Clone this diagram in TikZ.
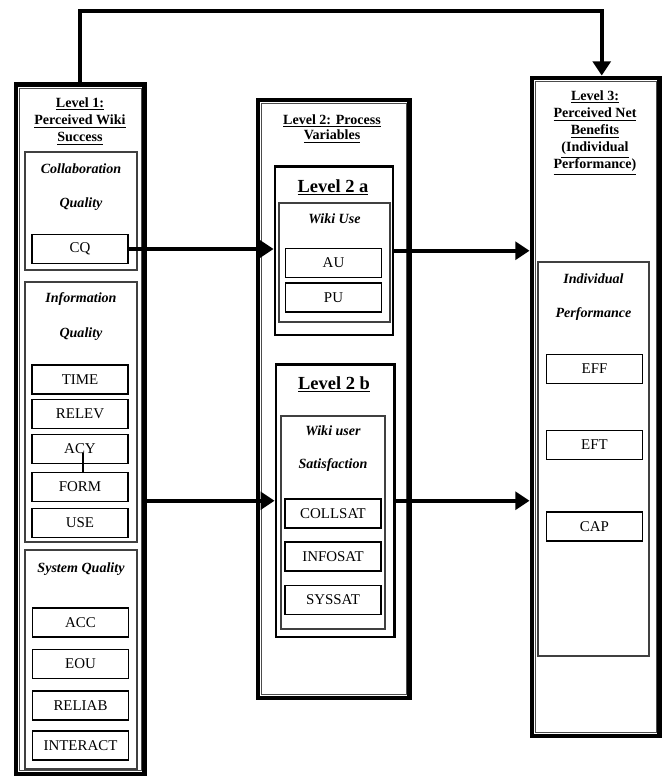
\documentclass[tikz,border=0pt]{standalone}
\usepackage{fontspec}
\setmainfont{Liberation Serif}
\usetikzlibrary{arrows.meta,fit,positioning}

\begin{document}
\begin{tikzpicture}[x=0.02cm,y=-0.02cm,
    levelbox/.style={draw,line width=2.8pt,inner sep=0pt},
    subbox/.style={draw,line width=1.6pt,inner sep=0pt},
    groupbox/.style={draw=black!75,line width=0.6pt,inner sep=0pt},
    item/.style={draw,line width=0.7pt,minimum width=1.92cm,minimum height=0.58cm,inner sep=0pt,font=\fontsize{8.5}{10}\selectfont},
    leveltitle/.style={align=center,inner sep=0pt,anchor=north,font=\bfseries\fontsize{8}{9.8}\selectfont},
    subtitle/.style={inner sep=0pt,anchor=base,font=\bfseries\fontsize{10.5}{12}\selectfont},
    grouplabel/.style={align=center,inner sep=0pt,anchor=north,font=\bfseries\itshape\fontsize{8}{19.8}\selectfont},
    conn/.style={line width=2.4pt,-{Triangle[length=8pt,width=10pt]}}]
        \useasboundingbox (0,0) rectangle (666,777);
        % --- level boxes ---
        \node[levelbox,fit={(16,84.5) (144.5,774)}] (L1) {};
        \node[levelbox,fit={(258,100) (409.5,698)}] (L2) {};
        \node[levelbox,fit={(532,78) (659.5,736)}] (L3) {};
        \foreach \b in {L1,L2,L3}
            \draw[line width=0.5pt,black!70] ([shift={(6,6)}]\b.north west) rectangle ([shift={(-6,-6)}]\b.south east);
        \node[leveltitle] (t1) at (80,97) {\underline{Level 1:}\\\underline{Perceived Wiki}\\\underline{Success}};
        \node[leveltitle,font=\bfseries\fontsize{8}{8.8}\selectfont] (t2) at (332,114) {\underline{Level 2: Process}\\\underline{Variables}};
        \node[leveltitle] (t3) at (595,90) {\underline{Level 3:}\\\underline{Perceived Net}\\\underline{Benefits}\\\underline{(Individual}\\\underline{Performance)}};
        % --- level 1 groups ---
        \node[groupbox,fit={(25,152) (137,270)}] (CoQ) {};
        \node[grouplabel] (lCoQ) at (81,163) {Collaboration\\Quality};
        \node[item] (CQ) at (80,249) {CQ};
        \node[groupbox,fit={(25,282) (137,542)}] (InQ) {};
        \node[grouplabel] (lInQ) at (81,292) {Information\\Quality};
        \node[item] (TIME) at (80,379.5) {TIME};
        \node[item] (RELEV) at (80,414) {RELEV};
        \node[item] (ACY) at (80,449) {ACY};
        \node[item] (FORM) at (80,487) {FORM};
        \node[item] (USE) at (80,523) {USE};
        \coordinate (acyfoot) at (83,453);
        \draw[line width=1.1pt] (acyfoot) -- (acyfoot |- FORM.north);
        \node[groupbox,fit={(25,550) (137,769)}] (SyQ) {};
        \node[grouplabel] (lSyQ) at (81,562) {System Quality};
        \node[item] (ACC) at (80.5,622.5) {ACC};
        \node[item] (EOU) at (80.5,664) {EOU};
        \node[item] (RELIAB) at (80.5,705.5) {RELIAB};
        \node[item] (INTERACT) at (80.5,745.5) {INTERACT};
        % --- level 2 a / 2 b ---
        \node[subbox,fit={(275,166.5) (393,335)}] (L2a) {};
        \node[subtitle] (t2a) at (333,192) {\underline{Level 2 a}};
        \node[groupbox,fit={(279,203) (390,322)}] (WU) {};
        \node[grouplabel] (lWU) at (334.5,213) {Wiki Use};
        \node[item] (AU) at (333.5,263) {AU};
        \node[item] (PU) at (333.5,297.5) {PU};
        \node[subbox,fit={(276,364.5) (394.5,637)}] (L2b) {};
        \node[subtitle] (t2b) at (334,389) {\underline{Level 2 b}};
        \node[groupbox,fit={(281,416) (385,629)}] (WS) {};
        \node[grouplabel,font=\bfseries\itshape\fontsize{8}{18.8}\selectfont] (lWS) at (333,425) {Wiki user\\Satisfaction};
        \node[item] (COLLSAT) at (333,513.5) {COLLSAT};
        \node[item] (INFOSAT) at (333,556.5) {INFOSAT};
        \node[item] (SYSSAT) at (333,600) {SYSSAT};
        % --- level 3 ---
        \node[groupbox,fit={(538,262) (649,656)}] (IP) {};
        \node[grouplabel] (lIP) at (593.5,273) {Individual\\Performance};
        \node[item] (EFF) at (594.5,369) {EFF};
        \node[item] (EFT) at (594.5,445) {EFT};
        \node[item] (CAP) at (594.5,526.5) {CAP};
        % --- connectors ---
        \draw[conn] (CQ.east) -- (CQ.east -| L2a.west);
        \draw[conn] (L2a.east) -- (L2a.east -| L3.west);
        \draw[conn] (L2b.west -| L1.east) -- (L2b.west);
        \draw[conn] (L2b.east) -- (L2b.east -| L3.west);
        \coordinate (top) at (340,11);
        \draw[conn] (L1.north) |- (top) -| ([xshift=0.12cm]L3.north);
    \end{tikzpicture}
\end{document}
